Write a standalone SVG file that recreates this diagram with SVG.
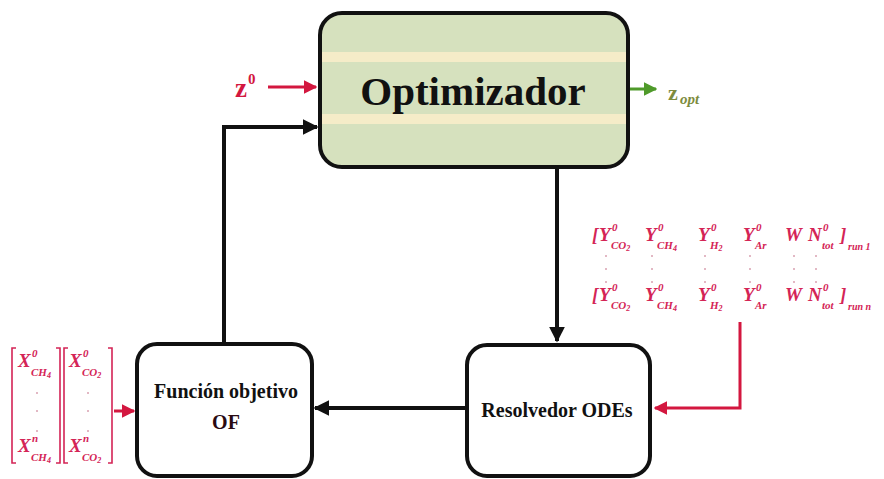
<svg xmlns="http://www.w3.org/2000/svg" width="884" height="479" viewBox="0 0 884 479">
  <defs>
    <marker id="ah-black" viewBox="0 0 10 10" refX="9" refY="5" markerWidth="4" markerHeight="4" orient="auto" markerUnits="strokeWidth">
      <path d="M0,0 L10,5 L0,10 z" fill="#111"/>
    </marker>
    <marker id="ah-red" viewBox="0 0 10 10" refX="9" refY="5" markerWidth="4.5" markerHeight="4.5" orient="auto" markerUnits="strokeWidth">
      <path d="M0,0 L10,5 L0,10 z" fill="#d3173f"/>
    </marker>
    <marker id="ah-green" viewBox="0 0 10 10" refX="9" refY="5" markerWidth="4.5" markerHeight="4.5" orient="auto" markerUnits="strokeWidth">
      <path d="M0,0 L10,5 L0,10 z" fill="#4f9a2a"/>
    </marker>
  </defs>
  <style>
    .box { fill: #ffffff; stroke: #111; stroke-width: 4; }
    .opt { fill: #d6e1be; stroke: #111; stroke-width: 4; }
    .band { fill: #f5ecc8; }
    .lbl { font-family: "Liberation Serif", "Times New Roman", serif; font-weight: bold; fill: #111; }
    .red { fill: #d3173f; }
    .olive { fill: #7d8c3e; }
    .dark { fill: #2a0a12; }
    .link { fill: none; stroke: #111; stroke-width: 4; marker-end: url(#ah-black); }
    .rlink { fill: none; stroke: #d3173f; stroke-width: 3; marker-end: url(#ah-red); }
    .glink { fill: none; stroke: #4f9a2a; stroke-width: 3; marker-end: url(#ah-green); }
    .math { font-family: "Liberation Serif", "Times New Roman", serif; font-weight: bold; font-style: italic; fill: #d42456; font-size: 19px; }
    .math .sup { font-size: 11px; }
    .math .sb { font-size: 11px; }
    .math .sb2 { font-size: 8px; }
    .math .run { font-size: 10px; }
    .brk { fill: none; stroke: #d42456; stroke-width: 1.6; }
    .dot { fill: #d9a0b0; }
  </style>

  <rect width="884" height="479" fill="#ffffff"/>

  <!-- optimizer block -->
  <g id="optimizador">
    <rect class="opt" x="320" y="13" width="308" height="154" rx="22"/>
    <rect class="band" x="322" y="52" width="304" height="10"/>
    <rect class="band" x="322" y="114" width="304" height="10"/>
    <text class="lbl" x="473" y="105" font-size="41" text-anchor="middle">Optimizador</text>
  </g>

  <!-- objective function block -->
  <g id="funcion-objetivo">
    <rect class="box" x="137" y="344" width="175" height="132" rx="20"/>
    <text class="lbl" x="226" y="398" font-size="20" text-anchor="middle">Función objetivo</text>
    <text class="lbl dark" x="226" y="429" font-size="20" text-anchor="middle">OF</text>
  </g>

  <!-- ODE solver block -->
  <g id="resolvedor-odes">
    <rect class="box" x="467" y="345" width="183" height="131" rx="20"/>
    <text class="lbl" x="557" y="417" font-size="20" text-anchor="middle">Resolvedor ODEs</text>
  </g>

  <!-- initial guess -->
  <g id="z0">
    <text class="lbl red" x="235" y="97" font-size="27">z</text>
    <text class="lbl red" x="248" y="84" font-size="15">0</text>
  </g>

  <!-- optimum -->
  <g id="zopt">
    <text class="lbl olive" x="668" y="100" font-size="22">z</text>
    <text class="lbl olive" x="680" y="104" font-size="15" font-style="italic">opt</text>
  </g>

  <!-- measured mole fractions -->
  <g id="matriz-x" class="math">
    <path class="brk" d="M16,348 h-4 v115 h4 M56,348 h4 v115 h-4 M68,348 h-4 v115 h4 M108,348 h4 v115 h-4"/>
    <text x="18" y="367">X</text><text class="sup" x="32" y="357">0</text><text class="sb" x="31" y="376">CH<tspan class="sb2" dy="2">4</tspan></text>
    <text x="69" y="367">X</text><text class="sup" x="83" y="357">0</text><text class="sb" x="82" y="376">CO<tspan class="sb2" dy="2">2</tspan></text>
    <text x="18" y="452">X</text><text class="sup" x="32" y="442">n</text><text class="sb" x="31" y="461">CH<tspan class="sb2" dy="2">4</tspan></text>
    <text x="69" y="452">X</text><text class="sup" x="83" y="442">n</text><text class="sb" x="82" y="461">CO<tspan class="sb2" dy="2">2</tspan></text>
    <circle class="dot" cx="37" cy="393" r="1"/>
    <circle class="dot" cx="37" cy="411" r="1"/>
    <circle class="dot" cx="37" cy="431" r="1"/>
    <circle class="dot" cx="88" cy="393" r="1"/>
    <circle class="dot" cx="88" cy="411" r="1"/>
    <circle class="dot" cx="88" cy="431" r="1"/>
  </g>

  <!-- initial conditions per run -->
  <g id="vector-y" class="math">
    <text x="592" y="241">[</text>
    <text x="599" y="241">Y</text><text class="sup" x="612" y="231">0</text><text class="sb" x="611" y="249">CO<tspan class="sb2" dy="2">2</tspan></text>
    <text x="645" y="241">Y</text><text class="sup" x="658" y="231">0</text><text class="sb" x="657" y="249">CH<tspan class="sb2" dy="2">4</tspan></text>
    <text x="698" y="241">Y</text><text class="sup" x="711" y="231">0</text><text class="sb" x="710" y="249">H<tspan class="sb2" dy="2">2</tspan></text>
    <text x="743" y="241">Y</text><text class="sup" x="756" y="231">0</text><text class="sb" x="755" y="249">Ar</text>
    <text x="785" y="241">W</text>
    <text x="808" y="241">N</text><text class="sup" x="823" y="231">0</text><text class="sb" x="822" y="249">tot</text>
    <text x="840" y="241">]</text><text class="run" x="848" y="250">run 1</text>

    <text x="592" y="301">[</text>
    <text x="599" y="301">Y</text><text class="sup" x="612" y="291">0</text><text class="sb" x="611" y="309">CO<tspan class="sb2" dy="2">2</tspan></text>
    <text x="645" y="301">Y</text><text class="sup" x="658" y="291">0</text><text class="sb" x="657" y="309">CH<tspan class="sb2" dy="2">4</tspan></text>
    <text x="698" y="301">Y</text><text class="sup" x="711" y="291">0</text><text class="sb" x="710" y="309">H<tspan class="sb2" dy="2">2</tspan></text>
    <text x="743" y="301">Y</text><text class="sup" x="756" y="291">0</text><text class="sb" x="755" y="309">Ar</text>
    <text x="785" y="301">W</text>
    <text x="808" y="301">N</text><text class="sup" x="823" y="291">0</text><text class="sb" x="822" y="309">tot</text>
    <text x="840" y="301">]</text><text class="run" x="848" y="310">run n</text>

    <circle class="dot" cx="606" cy="256" r="1"/><circle class="dot" cx="606" cy="269" r="1"/><circle class="dot" cx="606" cy="282" r="1"/>
    <circle class="dot" cx="652" cy="256" r="1"/><circle class="dot" cx="652" cy="269" r="1"/><circle class="dot" cx="652" cy="282" r="1"/>
    <circle class="dot" cx="705" cy="256" r="1"/><circle class="dot" cx="705" cy="269" r="1"/><circle class="dot" cx="705" cy="282" r="1"/>
    <circle class="dot" cx="750" cy="256" r="1"/><circle class="dot" cx="750" cy="269" r="1"/><circle class="dot" cx="750" cy="282" r="1"/>
    <circle class="dot" cx="794" cy="256" r="1"/><circle class="dot" cx="794" cy="269" r="1"/><circle class="dot" cx="794" cy="282" r="1"/>
    <circle class="dot" cx="816" cy="256" r="1"/><circle class="dot" cx="816" cy="269" r="1"/><circle class="dot" cx="816" cy="282" r="1"/>
  </g>

  <!-- connectors -->
  <g id="connectors">
    <path class="link" d="M557,167 V341"/>
    <path class="link" d="M467,408 H315"/>
    <path class="link" d="M224,344 V127 H317"/>
    <path class="rlink" d="M268,87 H316"/>
    <path class="glink" d="M630,89 H656"/>
    <path class="rlink" d="M740,322 V408 H655"/>
    <path class="rlink" d="M114,411 H134"/>
  </g>
</svg>
